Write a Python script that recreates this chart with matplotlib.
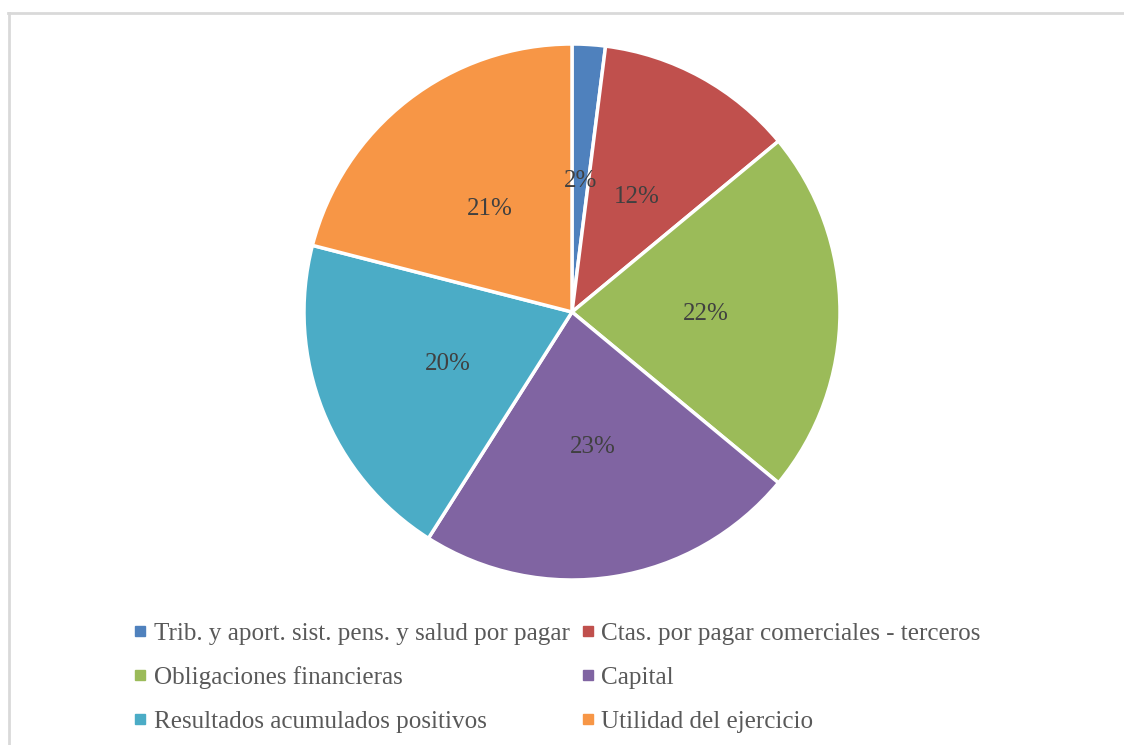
import matplotlib.pyplot as plt
from matplotlib.lines import Line2D

plt.rcParams['font.family'] = ['Liberation Serif', 'DejaVu Serif']

# Composition of liabilities and equity
categories = [
    'Trib. y aport. sist. pens. y salud por pagar',
    'Ctas. por pagar comerciales - terceros',
    'Obligaciones financieras',
    'Capital',
    'Resultados acumulados positivos',
    'Utilidad del ejercicio',
]
shares = [2, 12, 22, 23, 20, 21]
colors = ['#4F81BD', '#C0504D', '#9BBB59', '#8064A2', '#4BACC6', '#F79646']

W, H = 1124, 745
fig = plt.figure(figsize=(W / 100, H / 100), dpi=100)

# chart area border (top and left edges visible)
fig.add_artist(Line2D([8 / W, 1.0], [1 - 13 / H, 1 - 13 / H], color='#D9D9D9', lw=2))
fig.add_artist(Line2D([9 / W, 9 / W], [1 - 13 / H, 0.0], color='#D9D9D9', lw=2))

cx, cy, r = 572, 312, 268
ax = fig.add_axes([(cx - r) / W, (H - cy - r) / H, 2 * r / W, 2 * r / H])
wedges, texts = ax.pie(
    shares, colors=colors, startangle=90, counterclock=False,
    wedgeprops=dict(edgecolor='white', linewidth=2.5),
    labels=[f'{v}%' for v in shares], labeldistance=0.5,
    textprops=dict(color='#404040', fontsize=18),
)
for t in texts:
    t.set_horizontalalignment('center')
    t.set_verticalalignment('center_baseline')
ax.set_xlim(-1, 1)
ax.set_ylim(-1, 1)
ax.set_aspect('equal')
ax.axis('off')

# legend fills row by row: reorder for matplotlib's column-wise layout
order = [0, 2, 4, 1, 3, 5]
handles = [Line2D([], [], marker='s', ls='none', color=colors[i], markersize=6.5) for i in order]
fig.legend(
    handles, [categories[i] for i in order], ncol=2, loc='upper left',
    bbox_to_anchor=(134 / W, 1 - 622 / H), frameon=False,
    prop=dict(size=18.1), labelcolor='#595959',
    handlelength=0.5, handletextpad=0.3, columnspacing=0.45,
    labelspacing=0.85, borderpad=0, borderaxespad=0,
)

fig.savefig('out.png', dpi=100, facecolor='white')
